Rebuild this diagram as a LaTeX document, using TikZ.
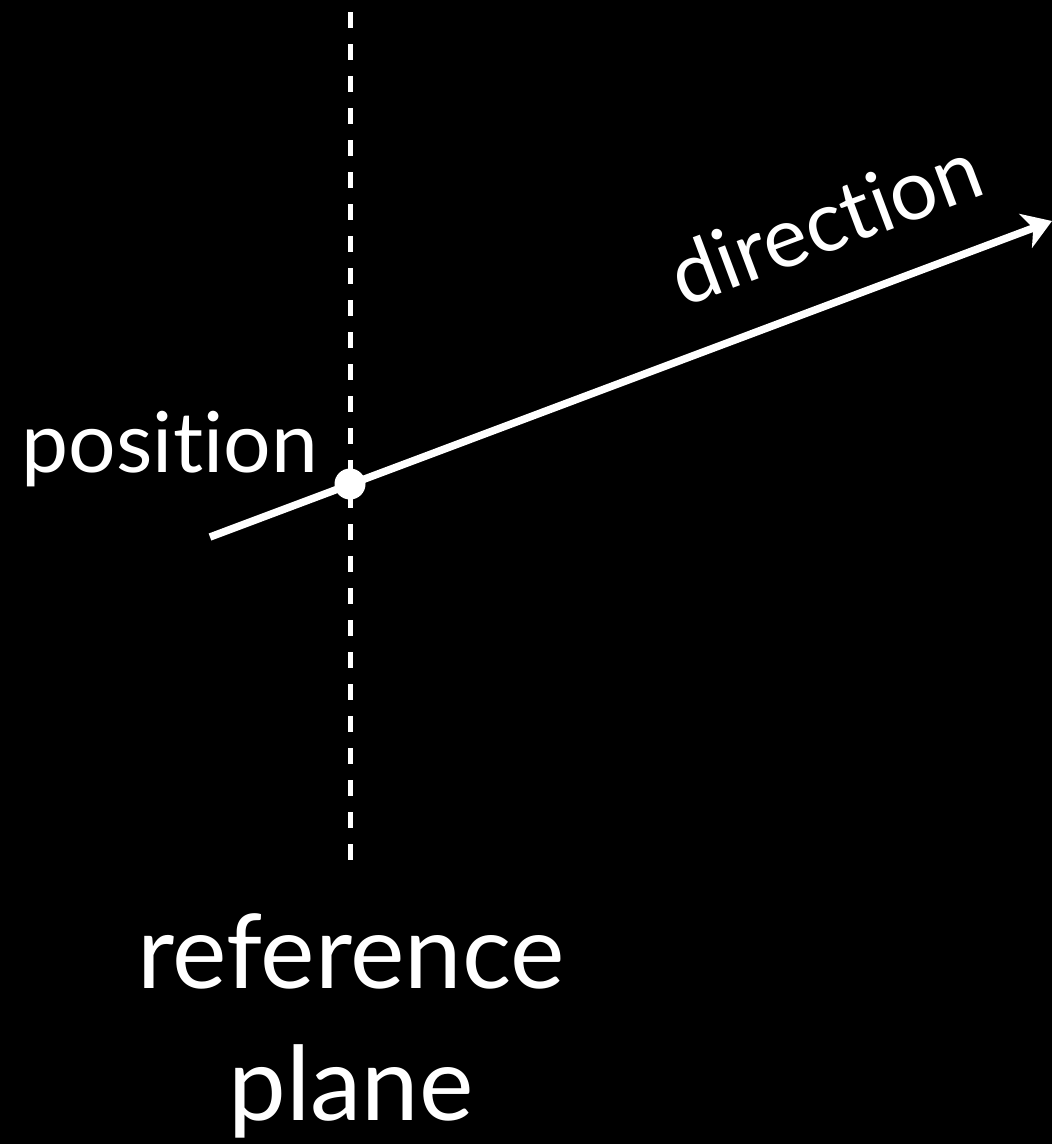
\documentclass[tikz,border=0pt]{standalone}
\usepackage{fontspec}
\setmainfont[Ligatures={NoCommon,NoRequired,NoContextual}]{Lato}
\usetikzlibrary{arrows.meta}
\begin{document}
\begin{tikzpicture}[x=1pt,y=-1pt,
  lbl/.style={text=white,inner sep=0pt,font=\fontsize{84}{100}\selectfont},
  plane/.style={white,line width=5pt,dash pattern=on 16pt off 16pt},
  ray/.style={white,line width=7.5pt,-{Stealth[length=28pt,width=36pt,inset=8pt]}}]
\fill[black] (0,0) rectangle (1052,1144);
\useasboundingbox (0,0) rectangle (1052,1144);
\coordinate (ptop) at (350,12);
\coordinate (pbot) at (350,860);
\draw[plane] (ptop) -- (pbot);
\coordinate (rstart) at (210,537);
\coordinate (rend) at (1052,221);
\draw[ray] (rstart) -- (rend);
\node[circle,fill=white,minimum size=31pt,inner sep=0pt] (pos) at (350,484) {};
\node[lbl,anchor=base east] (poslbl) at (318,472) {position};
\node[lbl,anchor=base,rotate=20.56] (dirlbl) at (836,250) {direction};
\node[lbl,anchor=base,font=\fontsize{103}{130}\selectfont] (ref1) at (351,988) {reference};
\node[lbl,anchor=base,font=\fontsize{103}{130}\selectfont] (ref2) at (351,1120) {plane};
\end{tikzpicture}
\end{document}
